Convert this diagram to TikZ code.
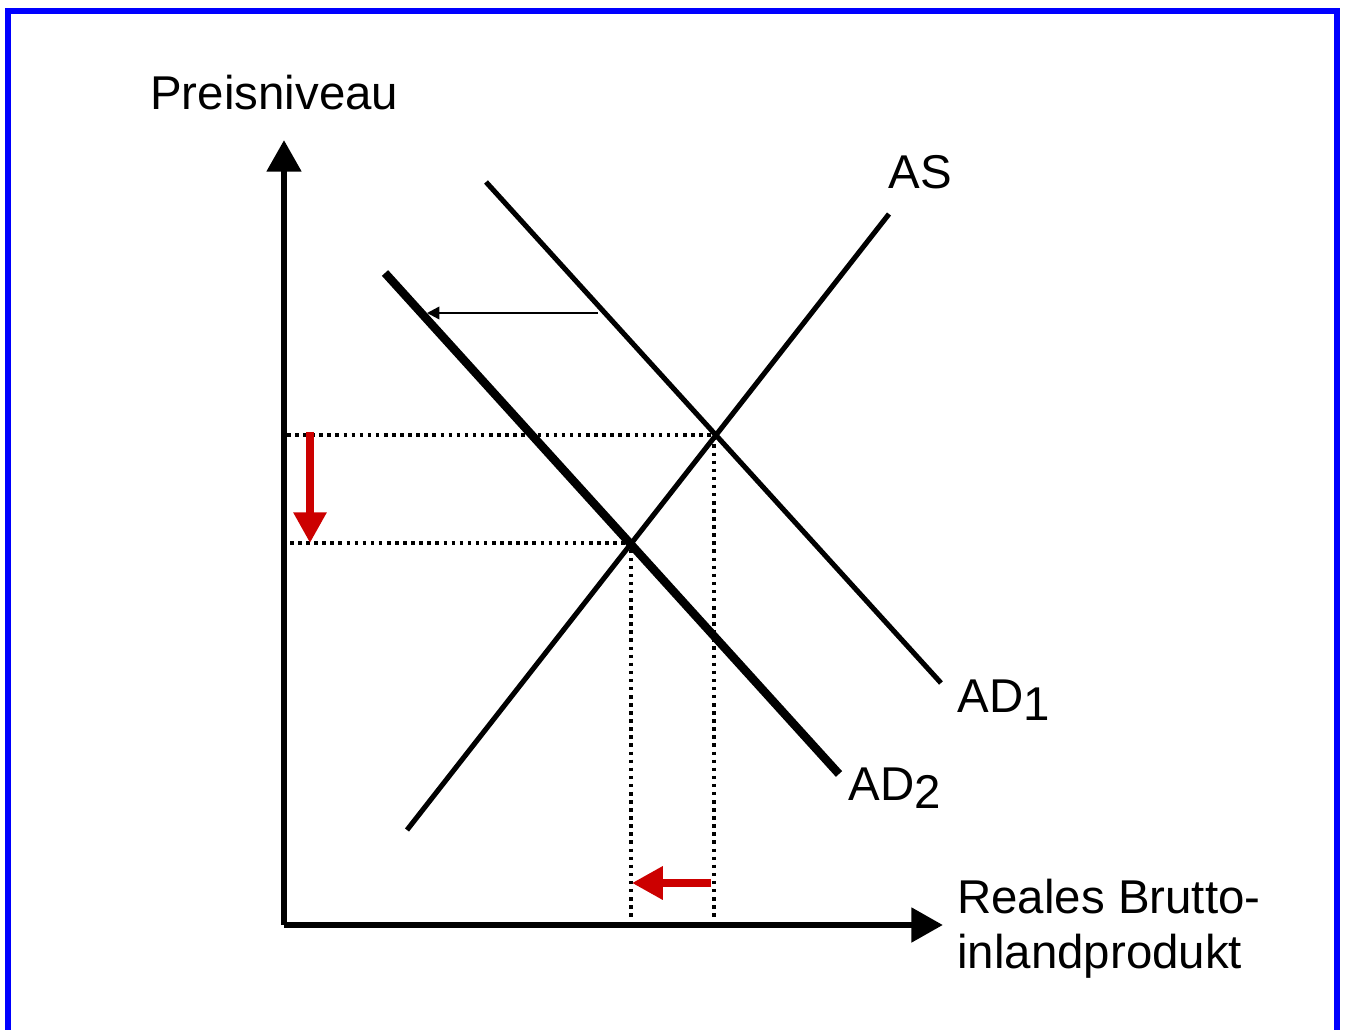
\documentclass[tikz,border=0pt]{standalone}
\usepackage{fontspec}
\setmainfont{Liberation Sans}
\usetikzlibrary{arrows.meta}
\tikzset{
  axis/.style={line width=3.9pt, -{Triangle[length=18pt,width=19pt]}},
  curve/.style={line width=2.9pt},
  thickcurve/.style={line width=4.8pt},
  guide/.style={line width=2pt, dash pattern=on 2pt off 2.6pt},
  redarrow/.style={line width=4.2pt, draw={rgb,255:red,204;green,0;blue,0}, -{Triangle[length=17.5pt,width=18pt]}},
  shift arrow/.style={line width=1.4pt, -{Triangle[length=7pt,width=7pt]}},
  lbl/.style={inner sep=0pt, anchor=base west, font=\fontsize{27}{32}\selectfont},
}
\begin{document}
\begin{tikzpicture}[x=0.02cm,y=-0.02cm]
\useasboundingbox (0,0) rectangle (1346,1030);
% frame
\coordinate (fbl) at (8,1030);
\coordinate (ftl) at (8,11);
\coordinate (ftr) at (1337,11);
\coordinate (fbr) at (1337,1030);
\draw[line width=3.4pt, draw=blue, line join=miter] (fbl) -- (ftl) -- (ftr) -- (fbr);
% axes
\coordinate (O) at (284,925);
\coordinate (ytip) at (284,140);
\coordinate (xtip) at (943,925);
\draw[axis] (O) -- (ytip);
\draw[axis] (O) -- (xtip);
% curves
\coordinate (as1) at (407,830);
\coordinate (as2) at (889,214);
\coordinate (ad1a) at (486,182);
\coordinate (ad1b) at (941,683);
\coordinate (ad2a) at (385,273);
\coordinate (ad2b) at (839,774);
\draw[curve] (as1) -- (as2);
\draw[curve] (ad1a) -- (ad1b);
\draw[thickcurve] (ad2a) -- (ad2b);
% shift arrow
\coordinate (sh1) at (598,313);
\coordinate (sh2) at (427,313);
\draw[shift arrow] (sh1) -- (sh2);
% equilibria and guides
\coordinate (E1) at (714,435);
\coordinate (E2) at (631,543);
\coordinate (p1) at (287,435);
\coordinate (p2) at (290,543);
\coordinate (q1) at (714,918);
\coordinate (q2) at (631,920);
\draw[guide] (p1) -- (E1) -- (q1);
\draw[guide] (p2) -- (E2) -- (q2);
% red arrows
\coordinate (rv1) at (310,432);
\coordinate (rv2) at (310,543);
\coordinate (rh1) at (711,883);
\coordinate (rh2) at (632,883);
\draw[redarrow] (rv1) -- (rv2);
\draw[redarrow] (rh1) -- (rh2);
% labels
\node[lbl] (ylab) at (150,110) {Preisniveau};
\node[lbl] (aslab) at (888,189) {AS};
\node[lbl] (ad1lab) at (957,712) {AD\raisebox{-0.16cm}{1}};
\node[lbl] (ad2lab) at (848,800) {AD\raisebox{-0.16cm}{2}};
\node[lbl] (xlab1) at (957,913) {Reales Brutto-};
\node[lbl] (xlab2) at (957,968) {inlandprodukt};
\end{tikzpicture}
\end{document}
